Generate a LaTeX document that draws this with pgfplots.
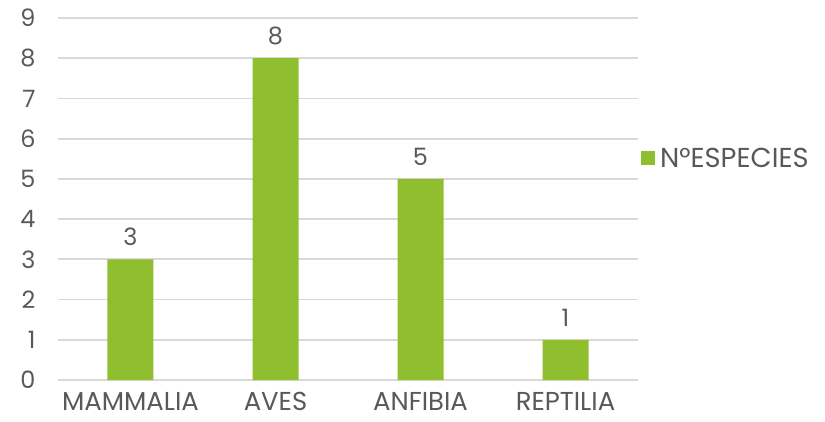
\documentclass[border=0pt]{standalone}
\usepackage{fontspec}
\setmainfont{Poppins}
\usepackage{pgfplots}
\pgfplotsset{compat=1.18}
\definecolor{bargreen}{HTML}{8FBE2F}
\definecolor{gridgray}{HTML}{D9D9D9}
\definecolor{txtgray}{HTML}{595959}
\begin{document}
\begin{tikzpicture}
\useasboundingbox (-58bp,-42bp) rectangle (767bp,380bp);
\begin{axis}[
  scale only axis,
  width=580bp, height=362bp,
  xmin=-0.5, xmax=3.5,
  ymin=0, ymax=9,
  xtick={0,1,2,3},
  xticklabels={MAMMALIA,AVES,ANFIBIA,REPTILIA},
  ytick={0,...,9},
  axis x line=bottom,
  axis y line=left,
  x axis line style={gridgray, line width=1.8bp, -},
  y axis line style={draw=none, -},
  ymajorgrids,
  grid style={gridgray, line width=1.8bp},
  major tick length=0pt,
  tick label style={txtgray},
  x tick label style={font=\fontsize{26}{30}\selectfont, yshift=-11bp, inner ysep=1bp},
  y tick label style={font=\fontsize{24}{28}\selectfont, xshift=-19bp},
  /pgf/number format/assume math mode=true,
  ybar,
  bar width=46bp,
  nodes near coords,
  nodes near coords style={txtgray, font=\fontsize{24}{28}\selectfont, yshift=10bp},
  legend style={at={(1.005,0.613)}, anchor=west, draw=none, fill=none,
    font=\fontsize{27.5}{30}\selectfont, text=txtgray,
    legend cell align=left, inner sep=0pt,
    nodes={inner xsep=5bp}},
  legend image code/.code={\fill[bargreen] (0bp,-7bp) rectangle (14bp,7bp);},
  clip=false,
]
\addplot[fill=bargreen, draw=none] coordinates {(0,3) (1,8) (2,5) (3,1)};
\addlegendentry{N°ESPECIES}
\end{axis}
\end{tikzpicture}
\end{document}
